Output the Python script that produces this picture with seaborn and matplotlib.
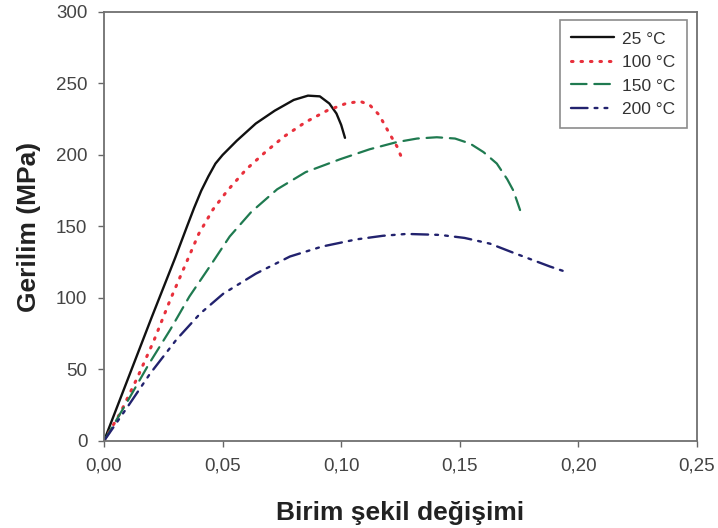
import matplotlib
matplotlib.use("Agg")
import matplotlib.pyplot as plt
from matplotlib.ticker import FuncFormatter
import seaborn as sns
import pandas as pd

# Stress-strain curves
strain_25 = [0, 0.01, 0.02, 0.03, 0.035, 0.038, 0.041, 0.044, 0.047, 0.050, 0.056, 0.064,
             0.072, 0.080, 0.086, 0.091, 0.095, 0.098, 0.100, 0.1016]
stress_25 = [0, 43, 86, 128, 150, 163, 175, 185, 194, 200, 210, 222,
             231, 238.5, 241.5, 241, 236, 229, 221, 212]

strain_100 = [0, 0.007, 0.014, 0.021, 0.028, 0.034, 0.040, 0.046, 0.052, 0.060,
              0.068, 0.076, 0.085, 0.094, 0.102, 0.108, 0.112, 0.116, 0.120, 0.1235, 0.1255]
stress_100 = [0, 20, 44, 70, 99, 122, 145, 162, 175, 190,
              202, 213, 223, 231, 236, 237.5, 235, 228, 216, 206, 198]

strain_150 = [0, 0.01, 0.019, 0.028, 0.036, 0.045, 0.053, 0.062, 0.073, 0.085, 0.0995,
              0.112, 0.1234, 0.132, 0.1403, 0.148, 0.1543, 0.160, 0.1656, 0.170, 0.1726, 0.1754]
stress_150 = [0, 28, 54, 78, 101, 123, 143, 160, 176, 188, 197,
              204, 209, 211.5, 212.4, 211.5, 208, 202, 194, 183, 175, 161.5]

strain_200 = [0, 0.01, 0.0194, 0.0306, 0.0405, 0.0503, 0.064, 0.0784, 0.092, 0.1065,
              0.1176, 0.1276, 0.1417, 0.152, 0.1627, 0.172, 0.180, 0.188, 0.1934]
stress_200 = [0, 24, 47, 71, 89, 103, 117, 129, 136, 141,
              143.5, 144.8, 144.1, 142, 138, 132, 127, 122, 119]

labels = ["25 °C", "100 °C", "150 °C", "200 °C"]
x_ticks = [0, 0.05, 0.10, 0.15, 0.20, 0.25]
y_ticks = [0, 50, 100, 150, 200, 250, 300]

series = [
    (strain_25, stress_25, "#111111", "-", 1.7),
    (strain_100, stress_100, "#e8303c", (0, (0.5, 2.6)), 2.2),
    (strain_150, stress_150, "#1f7a50", (0, (7, 3.5)), 1.6),
    (strain_200, stress_200, "#22226e", (0, (7, 3, 1.2, 3, 1.2, 3)), 1.7),
]

sns.set_style("white")
plt.rcParams["font.family"] = ["Liberation Sans", "DejaVu Sans"]

fig = plt.figure(figsize=(7.18, 5.28), dpi=100)
ax = fig.add_axes([0.1448, 0.1648, 0.8260, 0.8125])

for (xs, ys, col, ls, lw), lab in zip(series, labels):
    df = pd.DataFrame({"strain": xs, "stress": ys})
    sns.lineplot(data=df, x="strain", y="stress", ax=ax, color=col,
                 linestyle=ls, linewidth=lw, sort=False, label=lab,
                 dash_capstyle="round")

ax.set_xlim(0, 0.25)
ax.set_ylim(0, 300)
ax.set_xticks(x_ticks)
ax.set_yticks(y_ticks)
ax.xaxis.set_major_formatter(FuncFormatter(lambda v, p: f"{v:.2f}".replace(".", ",")))
ax.yaxis.set_major_formatter(FuncFormatter(lambda v, p: f"{v:.0f}"))
ax.tick_params(axis="both", direction="out", length=4, width=1, colors="#666666",
               labelcolor="#444444", labelsize=13.5, pad=8, bottom=True, left=True)

for side in ["top", "right", "bottom", "left"]:
    ax.spines[side].set_color("#707070")
    ax.spines[side].set_linewidth(1.3)

ax.set_xlabel("Birim şekil değişimi", fontsize=19, fontweight="bold",
              color="#222222", labelpad=19)
ax.set_ylabel("Gerilim (MPa)", fontsize=19, fontweight="bold",
              color="#222222", labelpad=11)

leg = ax.legend(loc="upper right", bbox_to_anchor=(0.983, 0.981), borderaxespad=0,
                fontsize=12.5, frameon=True, fancybox=False, edgecolor="#707070",
                handlelength=2.5, handletextpad=0.45, borderpad=0.65,
                labelspacing=0.48)
leg.get_frame().set_linewidth(1.2)
for t in leg.get_texts():
    t.set_color("#333333")

fig.savefig("out.png", dpi=100)
